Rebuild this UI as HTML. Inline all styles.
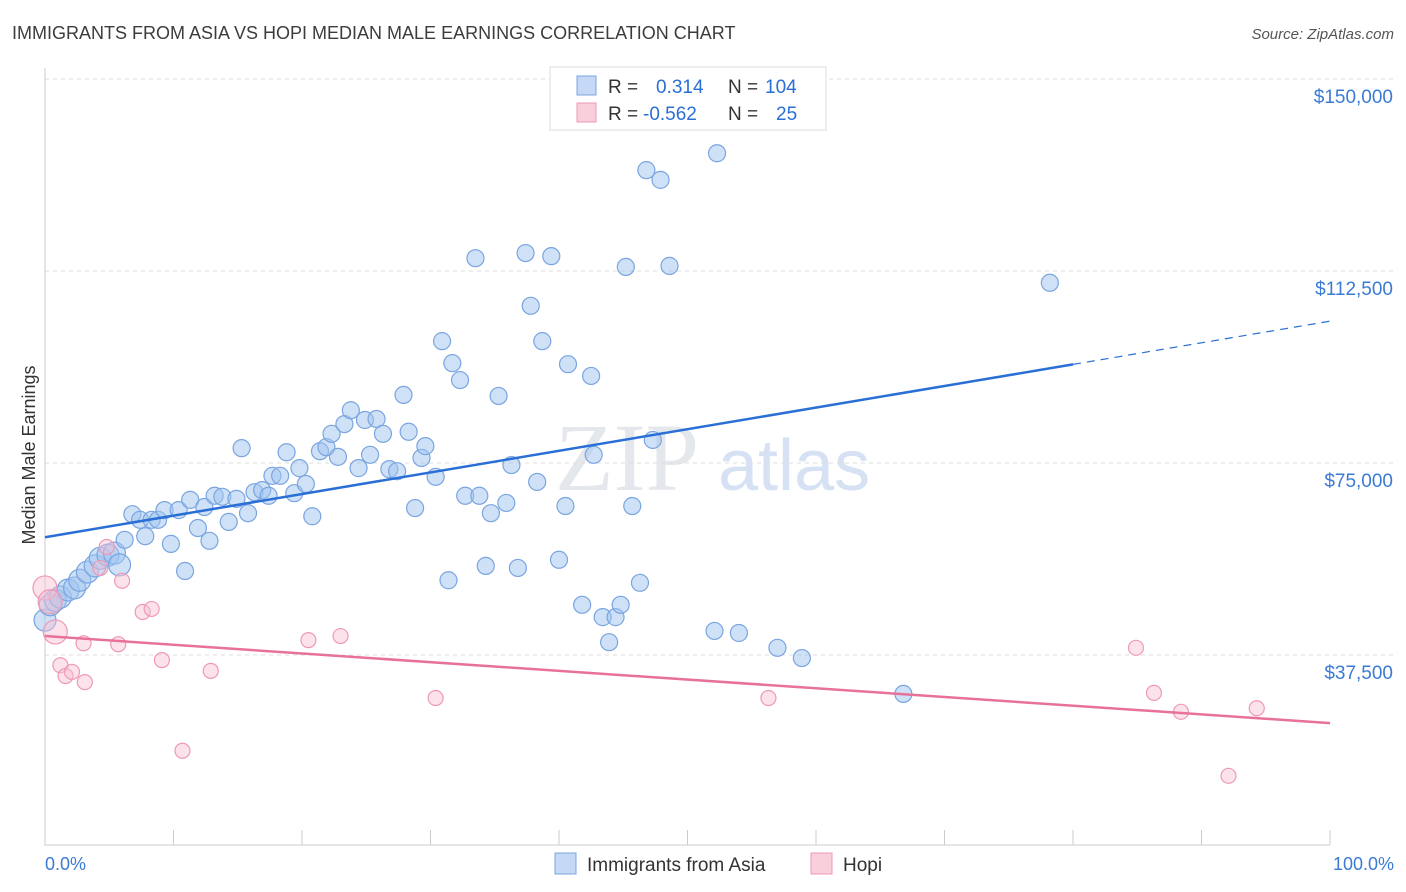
<!DOCTYPE html>
<html><head><meta charset="utf-8"><style>
body{margin:0;background:#fff;font-family:"Liberation Sans",sans-serif;}
svg{display:block}
</style></head><body>
<svg width="1406" height="892">
<text x="12" y="39" font-size="18" fill="#3c3c3c">IMMIGRANTS FROM ASIA VS HOPI MEDIAN MALE EARNINGS CORRELATION CHART</text>
<text x="1394" y="39" font-size="15" fill="#555" font-style="italic" text-anchor="end">Source: ZipAtlas.com</text>
<text x="555" y="490" font-size="96" fill="#e4e7ec" font-family="Liberation Serif,serif">ZIP</text>
<text x="718" y="490" font-size="72" fill="#d6e2f3">atlas</text>
<g id="grid"></g>
<line x1="45" y1="68" x2="45" y2="846" stroke="#ccc"/>
<line x1="45" y1="845" x2="1330" y2="845" stroke="#ccc"/>
<g id="xticks"></g>
<text x="35" y="455" font-size="18" fill="#333" transform="rotate(-90 35 455)" text-anchor="middle">Median Male Earnings</text>
<text x="45" y="870" font-size="18" fill="#3a7bd5">0.0%</text>
<text x="1394" y="870" font-size="18" fill="#3a7bd5" text-anchor="end">100.0%</text>
<g id="pts"></g>
<g id="lines"></g>
<g>
<rect x="550" y="67" width="276" height="63" fill="#fff" stroke="#ddd"/>
<rect x="577" y="76" width="19" height="19" fill="#c5d8f5" stroke="#7aa5e0"/>
<rect x="577" y="103" width="19" height="19" fill="#f9cfdc" stroke="#ee9ab5"/>
<text x="608" y="93" font-size="19" fill="#333">R =</text>
<text x="656" y="93" font-size="19" fill="#2a6fd6">0.314</text>
<text x="728" y="93" font-size="19" fill="#333">N =</text>
<text x="765" y="93" font-size="19" fill="#2a6fd6">104</text>
<text x="608" y="120" font-size="19" fill="#333">R =</text>
<text x="643" y="120" font-size="19" fill="#2a6fd6">-0.562</text>
<text x="728" y="120" font-size="19" fill="#333">N =</text>
<text x="776" y="120" font-size="19" fill="#2a6fd6">25</text>
</g>
<g>
<rect x="555" y="853" width="21" height="21" fill="#c5d8f5" stroke="#7aa5e0"/>
<text x="587" y="871" font-size="19" fill="#333">Immigrants from Asia</text>
<rect x="811" y="853" width="21" height="21" fill="#f9cfdc" stroke="#ee9ab5"/>
<text x="843" y="871" font-size="19" fill="#333">Hopi</text>
</g>
</svg>
<script>
const yTicks=[37500,75000,112500,150000];
const yTickLabels=["$37,500","$75,000","$112,500","$150,000"];
const asiaX=[0,0.4,0.8,1.2,1.8,2.3,2.7,3.3,3.9,4.3,4.9,5.4,5.8,6.2,6.8,7.4,7.8,8.3,8.8,9.3,9.8,10.4,10.9,11.3,11.9,12.4,12.8,13.2,13.8,14.3,14.9,15.3,15.8,16.3,16.9,17.4,17.7,18.3,18.8,19.4,19.8,20.3,20.8,21.4,21.9,22.3,22.8,23.3,23.8,24.4,24.9,25.3,25.8,26.3,26.8,27.4,27.9,28.3,28.8,29.3,29.6,30.4,30.9,31.4,31.7,32.3,32.7,33.5,33.8,34.3,34.7,35.3,35.9,36.3,36.8,37.4,37.8,38.3,38.7,39.4,40.0,40.5,40.7,41.8,42.5,42.7,43.4,43.9,44.4,44.8,45.2,45.7,46.3,46.8,47.3,47.9,48.6,50.2,52.1,52.3,54.0,57.0,58.9,66.8,78.2];
const asiaY=[44.3,47.3,48.2,48.8,50.2,50.6,52.1,53.7,54.9,56.4,57.0,57.4,55.1,60.0,65.0,63.9,60.7,63.9,63.9,65.8,59.2,65.8,53.9,67.8,62.3,66.4,59.8,68.6,68.4,63.5,68.0,77.9,65.2,69.3,69.7,68.6,72.5,72.5,77.1,69.1,74.0,70.9,64.6,77.3,78.1,80.7,76.2,82.6,85.3,74.0,83.4,76.6,83.6,80.7,73.8,73.4,88.3,81.1,66.2,76.0,78.3,72.3,98.8,52.1,94.5,91.2,68.6,115.0,68.6,54.9,65.2,88.1,67.2,74.6,54.5,116.0,105.7,71.3,98.8,115.4,56.1,66.6,94.3,47.3,92.0,76.6,44.9,40.0,44.9,47.3,113.3,66.6,51.6,132.2,79.5,130.3,113.5,142.4,42.2,135.5,41.8,38.9,36.9,29.9,110.2];
const hopiX=[0,0.4,0.8,1.2,1.6,2.1,3.1,3.0,4.3,4.8,5.7,6.0,7.6,8.3,9.1,10.7,12.9,20.5,23.0,30.4,56.3,84.9,86.3,88.4,92.1,94.3];
const hopiY=[50.6,47.9,42.0,35.5,33.4,34.2,32.2,39.8,54.5,58.6,39.6,52.0,45.9,46.5,36.5,18.8,34.4,40.4,41.2,29.1,29.1,38.9,30.1,26.4,13.9,27.1];
const asiaTrend=[60.5,102.7], hopiTrend=[41.2,24.2];
const xs=v=>45+v/100*1285, ys=v=>847-v*1000/37500*192;
const NS="http://www.w3.org/2000/svg";
function mk(t,a,p){const e=document.createElementNS(NS,t);for(const k in a)e.setAttribute(k,a[k]);document.getElementById(p).appendChild(e);return e;}
yTicks.forEach((t,i)=>{
 const l=mk('line',{x1:45,x2:1395,y1:ys(t/1000),y2:ys(t/1000),stroke:'#ddd','stroke-dasharray':'4,4'},'grid');
 
 
 const tx=mk('text',{x:1393,y:ys(t/1000)+24,'font-size':19,fill:'#3a7bd5','text-anchor':'end'},'grid');
 tx.textContent=yTickLabels[i];
 
 
});
mk('line',{x1:45,x2:1395,y1:79,y2:79,stroke:'#ddd','stroke-dasharray':'4,4'},'grid');
for(let i=0;i<=10;i++){const l=mk('line',{x1:xs(i*10),x2:xs(i*10),y1:830,y2:845,stroke:'#ccc'},'xticks');
 
 }
asiaX.forEach((x,i)=>{const c=mk('circle',{cx:xs(x),cy:ys(asiaY[i]),r:x<6?11:8.5,fill:'rgba(160,195,240,0.5)',stroke:'#7aa5e0','stroke-width':1.2},'pts');
 
 });
hopiX.forEach((x,i)=>{const c=mk('circle',{cx:xs(x),cy:ys(hopiY[i]),r:x<1?12:7.5,fill:'rgba(248,190,210,0.45)',stroke:'#ee9ab5','stroke-width':1.2},'pts');
 
 });
const am=v=>asiaTrend[0]+(asiaTrend[1]-asiaTrend[0])*v/100;
let l1=mk('line',{x1:xs(0),y1:ys(am(0)),x2:xs(80),y2:ys(am(80)),stroke:'#2a6fd6','stroke-width':2.5},'lines');


let l2=mk('line',{x1:xs(80),y1:ys(am(80)),x2:xs(100),y2:ys(am(100)),stroke:'#2a6fd6','stroke-width':1.2,'stroke-dasharray':'8,6'},'lines');


let l3=mk('line',{x1:xs(0),y1:ys(hopiTrend[0]),x2:xs(100),y2:ys(hopiTrend[1]),stroke:'#e8719a','stroke-width':2.5},'lines');


</script>
</body></html>
